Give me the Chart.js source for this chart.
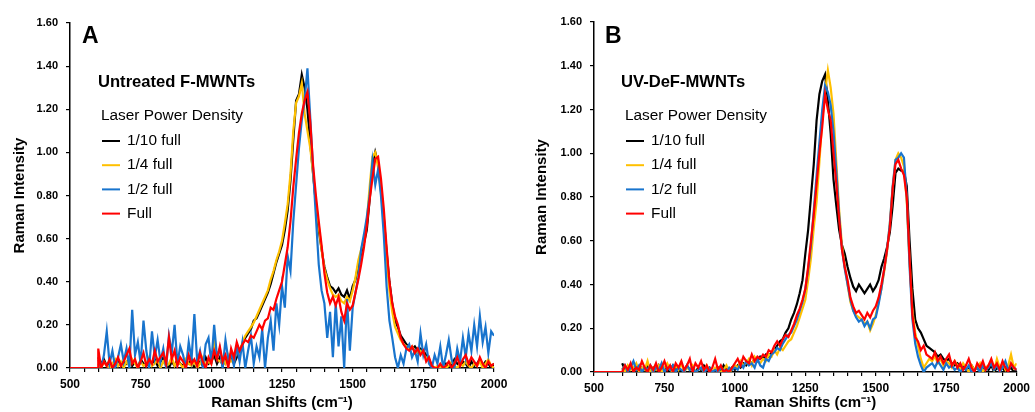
<!DOCTYPE html>
<html>
<head>
<meta charset="utf-8">
<script src="https://cdn.jsdelivr.net/npm/chart.js@4"></script>
<style>
  html, body { margin: 0; padding: 0; background: #fff; }
  .panel { position: absolute; top: 0; }
</style>
</head>
<body>
<div class="panel" style="left:0px"><canvas id="chartA" width="517" height="412"></canvas></div>
<div class="panel" style="left:520px"><canvas id="chartB" width="515" height="412"></canvas></div>
<script>
// Raman shift grid (cm-1), 600..2000 every 10
const shifts = Array.from({ length: 141 }, (_, i) => 600 + i * 10);
// the Full trace sits on the axis before the measured range
const leadShifts = [500, 600];
const leadValues = [0, 0];

const seriesLabels = ['1/10 full', '1/4 full', '1/2 full', 'Full'];
const seriesColors = ['#000000', '#FFC000', '#1874CD', '#FF0000'];

// A: untreated F-MWNTs
const aTenth = [
  0.05,0.02,0.04,0.01,0.03,0.00,0.02,0.04,0.01,0.03,
  0.02,0.05,0.01,0.03,0.00,0.04,0.02,0.01,0.03,0.02,
  0.04,0.01,0.03,0.05,0.02,0.00,0.03,0.01,0.04,0.02,
  0.01,0.03,0.02,0.04,0.00,0.02,0.03,0.01,0.05,0.02,
  0.03,0.06,0.02,0.05,0.01,0.04,0.03,0.06,0.02,0.05,
  0.08,0.11,0.14,0.16,0.18,0.22,0.23,0.26,0.29,0.32,
  0.35,0.39,0.44,0.49,0.53,0.57,0.64,0.73,0.87,1.06,
  1.24,1.27,1.36,1.30,1.20,1.04,0.90,0.76,0.64,0.55,
  0.47,0.42,0.38,0.37,0.35,0.37,0.34,0.33,0.36,0.32,
  0.38,0.41,0.48,0.53,0.58,0.64,0.78,0.93,1.00,0.95,
  0.84,0.70,0.54,0.40,0.30,0.22,0.19,0.15,0.13,0.11,
  0.10,0.09,0.10,0.08,0.09,0.08,0.06,0.04,0.01,0.00,
  0.00,0.01,0.00,0.02,0.00,0.01,0.04,0.02,0.01,0.03,
  0.02,0.00,0.03,0.01,0.02,0.04,0.01,0.03,0.02,0.00,
  0.02
];
const aQuarter = [
  0.02,0.00,0.03,0.01,0.00,0.02,0.04,0.01,0.03,0.00,
  0.03,0.01,0.04,0.02,0.00,0.03,0.01,0.02,0.05,0.01,
  0.02,0.04,0.00,0.03,0.01,0.02,0.05,0.01,0.03,0.02,
  0.00,0.04,0.02,0.01,0.03,0.00,0.02,0.05,0.01,0.03,
  0.02,0.12,0.04,0.03,0.05,0.02,0.06,0.03,0.04,0.07,
  0.07,0.12,0.15,0.17,0.19,0.21,0.24,0.27,0.30,0.33,
  0.36,0.41,0.45,0.50,0.54,0.59,0.67,0.76,0.90,1.10,
  1.23,1.26,1.32,1.18,1.10,1.02,0.90,0.77,0.66,0.55,
  0.46,0.41,0.37,0.34,0.33,0.34,0.31,0.30,0.33,0.31,
  0.36,0.42,0.50,0.55,0.60,0.68,0.84,0.98,1.00,0.93,
  0.82,0.68,0.50,0.36,0.26,0.19,0.16,0.13,0.11,0.10,
  0.09,0.10,0.08,0.07,0.08,0.06,0.05,0.03,0.01,0.00,
  0.01,0.00,0.02,0.00,0.01,0.03,0.01,0.00,0.02,0.01,
  0.03,0.01,0.00,0.02,0.01,0.03,0.00,0.02,0.04,0.01,
  0.00
];
const aHalf = [
  0.04,0.00,0.06,0.17,0.02,0.08,0.00,0.05,0.11,0.03,
  0.09,0.00,0.27,0.06,0.12,0.02,0.22,0.08,0.00,0.17,
  0.05,0.13,0.03,0.09,0.00,0.15,0.07,0.20,0.02,0.10,
  0.06,0.00,0.12,0.04,0.25,0.03,0.08,0.00,0.11,0.14,
  0.02,0.20,0.05,0.09,0.00,0.13,0.04,0.07,0.01,0.10,
  0.03,0.12,0.00,0.08,0.15,0.02,0.10,0.05,0.18,0.00,
  0.14,0.22,0.08,0.30,0.20,0.38,0.28,0.52,0.45,0.68,
  0.85,1.02,1.15,1.24,1.39,1.16,0.92,0.70,0.48,0.36,
  0.30,0.14,0.26,0.05,0.30,0.10,0.24,0.00,0.32,0.08,
  0.28,0.35,0.42,0.55,0.62,0.70,0.80,0.96,0.85,0.92,
  0.80,0.62,0.38,0.22,0.14,0.05,0.00,0.06,0.02,0.09,
  0.11,0.05,0.08,0.03,0.16,0.06,0.11,0.02,0.00,0.06,
  0.02,0.10,0.00,0.06,0.13,0.04,0.00,0.09,0.03,0.14,
  0.05,0.16,0.08,0.20,0.10,0.24,0.12,0.19,0.07,0.17,
  0.15
];
const aFull = [
  0.09,0.00,0.03,0.01,0.04,0.00,0.02,0.05,0.01,0.03,
  0.06,0.09,0.02,0.04,0.00,0.03,0.07,0.01,0.04,0.02,
  0.08,0.03,0.05,0.07,0.02,0.14,0.04,0.08,0.01,0.05,
  0.03,0.00,0.06,0.02,0.04,0.01,0.07,0.03,0.00,0.05,
  0.02,0.08,0.04,0.10,0.03,0.06,0.00,0.09,0.05,0.12,
  0.08,0.11,0.13,0.12,0.15,0.14,0.17,0.20,0.18,0.22,
  0.23,0.28,0.27,0.32,0.36,0.40,0.48,0.56,0.68,0.84,
  0.97,1.09,1.18,1.24,1.28,1.14,0.94,0.80,0.68,0.57,
  0.44,0.35,0.30,0.33,0.29,0.33,0.26,0.22,0.30,0.27,
  0.29,0.35,0.41,0.48,0.56,0.66,0.78,0.88,0.97,0.98,
  0.88,0.74,0.56,0.40,0.30,0.24,0.20,0.14,0.11,0.09,
  0.08,0.10,0.07,0.09,0.06,0.08,0.03,0.05,0.01,0.00,
  0.00,0.02,0.00,0.01,0.03,0.00,0.02,0.05,0.01,0.04,
  0.06,0.02,0.05,0.03,0.01,0.05,0.02,0.00,0.03,0.01,
  0.02
];

// B: UV-DeF-MWNTs
const bTenth = [
  0.04,0.01,0.00,0.02,0.01,0.03,0.00,0.02,0.01,0.03,
  0.01,0.02,0.00,0.03,0.01,0.02,0.00,0.01,0.03,0.01,
  0.02,0.00,0.01,0.03,0.01,0.02,0.00,0.02,0.01,0.03,
  0.01,0.02,0.00,0.01,0.02,0.00,0.03,0.01,0.00,0.02,
  0.01,0.03,0.02,0.04,0.03,0.05,0.04,0.06,0.05,0.07,
  0.06,0.08,0.07,0.09,0.10,0.12,0.14,0.15,0.18,0.20,
  0.24,0.27,0.31,0.36,0.42,0.54,0.65,0.80,0.95,1.15,
  1.27,1.33,1.36,1.24,1.09,0.88,0.76,0.65,0.58,0.54,
  0.48,0.43,0.39,0.37,0.40,0.38,0.36,0.38,0.40,0.37,
  0.39,0.42,0.48,0.52,0.57,0.64,0.76,0.91,0.93,0.92,
  0.92,0.85,0.60,0.38,0.24,0.20,0.18,0.15,0.12,0.11,
  0.10,0.09,0.07,0.08,0.06,0.05,0.06,0.04,0.03,0.04,
  0.02,0.03,0.01,0.02,0.03,0.01,0.02,0.00,0.01,0.02,
  0.01,0.03,0.00,0.02,0.01,0.02,0.00,0.01,0.02,0.00,
  0.01
];
const bQuarter = [
  0.02,0.00,0.03,0.01,0.02,0.04,0.00,0.02,0.01,0.05,
  0.00,0.02,0.01,0.03,0.00,0.02,0.04,0.01,0.00,0.03,
  0.01,0.04,0.00,0.02,0.01,0.03,0.00,0.01,0.02,0.00,
  0.03,0.01,0.00,0.02,0.01,0.00,0.01,0.03,0.00,0.01,
  0.03,0.02,0.05,0.03,0.04,0.06,0.03,0.07,0.05,0.04,
  0.06,0.05,0.08,0.07,0.10,0.08,0.11,0.10,0.12,0.14,
  0.15,0.18,0.21,0.25,0.29,0.33,0.42,0.52,0.66,0.78,
  0.96,1.15,1.28,1.38,1.30,1.18,0.96,0.74,0.58,0.48,
  0.40,0.32,0.28,0.26,0.25,0.24,0.22,0.23,0.19,0.22,
  0.26,0.32,0.38,0.46,0.55,0.68,0.84,0.97,1.00,0.98,
  0.94,0.78,0.50,0.28,0.18,0.12,0.06,0.02,0.04,0.06,
  0.05,0.07,0.04,0.06,0.03,0.05,0.04,0.02,0.05,0.03,
  0.01,0.04,0.02,0.00,0.03,0.01,0.02,0.04,0.00,0.02,
  0.03,0.05,0.01,0.06,0.02,0.04,0.01,0.03,0.08,0.02,
  0.04
];
const bHalf = [
  0.01,0.03,0.00,0.02,0.05,0.01,0.03,0.00,0.02,0.01,
  0.03,0.00,0.02,0.01,0.04,0.00,0.02,0.01,0.03,0.00,
  0.02,0.01,0.00,0.03,0.01,0.02,0.00,0.01,0.02,0.00,
  0.01,0.02,0.00,0.01,0.00,0.02,0.01,0.00,0.02,0.01,
  0.02,0.01,0.04,0.02,0.05,0.03,0.04,0.02,0.06,0.03,
  0.02,0.06,0.05,0.08,0.09,0.11,0.10,0.13,0.15,0.17,
  0.18,0.21,0.24,0.28,0.32,0.38,0.47,0.58,0.74,0.90,
  1.05,1.20,1.31,1.28,1.22,1.10,0.92,0.72,0.56,0.47,
  0.40,0.33,0.28,0.25,0.23,0.24,0.21,0.23,0.20,0.24,
  0.25,0.31,0.38,0.47,0.56,0.68,0.85,0.97,0.98,1.00,
  0.98,0.80,0.48,0.24,0.13,0.07,0.03,0.00,0.02,0.03,
  0.04,0.02,0.05,0.03,0.01,0.04,0.02,0.03,0.01,0.02,
  0.00,0.02,0.01,0.03,0.00,0.01,0.02,0.00,0.03,0.01,
  0.02,0.04,0.01,0.03,0.00,0.02,0.05,0.01,0.03,0.02,
  0.01
];
const bFull = [
  0.00,0.03,0.01,0.04,0.00,0.02,0.01,0.05,0.02,0.00,
  0.03,0.01,0.04,0.00,0.02,0.05,0.01,0.03,0.00,0.04,
  0.02,0.05,0.01,0.03,0.06,0.00,0.04,0.02,0.05,0.01,
  0.03,0.00,0.02,0.06,0.01,0.03,0.00,0.01,0.00,0.02,
  0.04,0.06,0.03,0.07,0.05,0.04,0.08,0.05,0.07,0.06,
  0.08,0.07,0.10,0.09,0.12,0.14,0.12,0.15,0.17,0.16,
  0.19,0.22,0.26,0.29,0.33,0.38,0.48,0.60,0.72,0.86,
  1.00,1.12,1.27,1.20,1.15,1.00,0.86,0.70,0.56,0.48,
  0.42,0.34,0.30,0.27,0.28,0.26,0.24,0.27,0.25,0.28,
  0.30,0.34,0.40,0.47,0.56,0.66,0.84,0.95,0.97,0.93,
  0.90,0.80,0.52,0.26,0.16,0.14,0.10,0.12,0.08,0.07,
  0.06,0.09,0.05,0.07,0.04,0.06,0.08,0.03,0.05,0.02,
  0.04,0.01,0.03,0.06,0.02,0.00,0.04,0.02,0.05,0.01,
  0.03,0.06,0.02,0.04,0.01,0.05,0.02,0.00,0.04,0.02,
  0.01
];

const toPoints = (xs, ys) => xs.map((x, i) => ({ x: x, y: ys[i] }));

function makeDatasets(series) {
  return series.map((ys, i) => {
    let pts = toPoints(shifts, ys);
    if (i === 3) pts = toPoints(leadShifts, leadValues).concat(pts);
    return {
      label: seriesLabels[i],
      data: pts,
      borderColor: seriesColors[i],
      borderWidth: 2.2,
      pointRadius: 0,
      tension: 0,
      fill: false,
      order: 4 - i
    };
  });
}

// letter, sample name, legend title and legend entries
const panelText = {
  id: 'panelText',
  afterDraw(chart, args, o) {
    const ctx = chart.ctx;
    ctx.save();
    ctx.fillStyle = '#000';
    ctx.textBaseline = 'middle';
    ctx.textAlign = 'left';
    ctx.font = 'bold 23px "Liberation Sans", Arial, sans-serif';
    ctx.fillText(o.letter, o.letterX, 37);
    ctx.font = 'bold 16.6px "Liberation Sans", Arial, sans-serif';
    ctx.fillText(o.title, o.titleX, 82);
    ctx.font = '15.4px "Liberation Sans", Arial, sans-serif';
    ctx.fillText('Laser Power Density', o.legX, 116);
    chart.data.datasets.forEach((ds, i) => {
      const y = 141 + i * 24.2;
      ctx.strokeStyle = ds.borderColor;
      ctx.lineWidth = 2;
      ctx.beginPath();
      ctx.moveTo(o.legX + 1, y);
      ctx.lineTo(o.legX + 19, y);
      ctx.stroke();
      ctx.fillText(ds.label, o.legX + 26, y);
    });
    ctx.restore();
  }
};

function makeChart(id, series, text, box) {
  return new Chart(document.getElementById(id), {
    type: 'line',
    data: { datasets: makeDatasets(series) },
    options: {
      responsive: false,
      animation: false,
      layout: { padding: { left: 0, right: box.right, top: box.top, bottom: 0 } },
      plugins: {
        legend: { display: false },
        tooltip: { enabled: false },
        panelText: text
      },
      scales: {
        x: {
          type: 'linear',
          min: 500,
          max: 2000,
          border: { color: '#000', width: 1.5 },
          grid: { drawOnChartArea: false, drawTicks: true, tickLength: 4, color: '#000', lineWidth: 1.2 },
          ticks: {
            stepSize: 50,
            autoSkip: false,
            maxRotation: 0,
            padding: 5,
            color: '#000',
            font: { family: '"Liberation Sans", Arial, sans-serif', size: 12, weight: 'bold' },
            callback: v => (v % 250 === 0 ? String(v) : '')
          },
          title: {
            display: true,
            text: 'Raman Shifts (cm⁻¹)',
            color: '#000',
            padding: { top: 0, bottom: 0 },
            font: { family: '"Liberation Sans", Arial, sans-serif', size: 15, weight: 'bold' }
          },
          afterFit: s => { s.height = box.xHeight; }
        },
        y: {
          min: 0,
          max: 1.6,
          border: { color: '#000', width: 1.5 },
          grid: { drawOnChartArea: false, drawTicks: true, tickLength: 4, color: '#000', lineWidth: 1.2 },
          ticks: {
            stepSize: 0.2,
            padding: 8,
            color: '#000',
            font: { family: '"Liberation Sans", Arial, sans-serif', size: 11, weight: 'bold' },
            callback: v => v.toFixed(2)
          },
          title: {
            display: true,
            text: 'Raman Intensity',
            color: '#000',
            padding: { top: box.yTitlePad, bottom: 0 },
            font: { family: '"Liberation Sans", Arial, sans-serif', size: 15, weight: 'bold' }
          },
          afterFit: s => { s.width = box.yWidth; }
        }
      }
    },
    plugins: [panelText]
  });
}

makeChart('chartA', [aTenth, aQuarter, aHalf, aFull],
  { letter: 'A', letterX: 82, title: 'Untreated F-MWNTs', titleX: 98, legX: 101 },
  { right: 23, top: 23, xHeight: 44, yWidth: 70, yTitlePad: 11 });

makeChart('chartB', [bTenth, bQuarter, bHalf, bFull],
  { letter: 'B', letterX: 85, title: 'UV-DeF-MWNTs', titleX: 101, legX: 105 },
  { right: 12, top: 22, xHeight: 40, yWidth: 74, yTitlePad: 13 });
</script>
</body>
</html>
